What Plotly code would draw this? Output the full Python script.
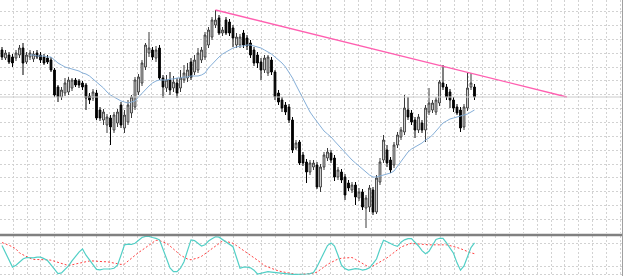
import plotly.graph_objects as go

# ---- price data (arbitrary price units) ----
opens = [190,182,185,183,182,185,192,178,183,181,187,185,183,182,180,170,153,143,147,148,
         152,160,159,157,155,144,142,147,130,120,115,122,110,117,135,112,118,127,133,148,
         157,173,187,190,182,192,162,152,160,152,157,152,160,162,178,168,170,180,183,195,
         203,215,222,207,220,218,212,195,195,207,202,197,190,185,178,170,167,180,168,147,
         140,135,133,120,92,98,85,78,68,73,75,53,73,82,87,82,63,68,63,57,
         50,55,42,48,32,33,50,28,58,80,90,80,75,95,103,108,130,127,120,110,
         117,110,128,130,128,137,157,153,148,140,133,130,113,132,153,153]
closes = [183,187,178,177,187,192,177,185,187,186,183,180,177,178,170,145,143,150,157,160,
          160,155,155,153,142,140,148,122,122,128,123,113,125,128,115,125,135,143,160,163,
          177,195,192,183,190,162,153,160,150,158,147,162,167,170,163,180,187,190,205,210,
          220,220,207,210,207,207,202,203,203,195,194,185,177,177,170,182,183,168,143,138,
          132,128,120,90,97,77,77,68,77,77,53,73,85,88,80,63,70,60,45,52,
          55,43,48,33,42,52,28,62,78,100,77,70,95,105,110,132,123,118,110,123,
          110,132,137,137,140,158,153,143,140,132,127,112,133,152,157,143]
highs = [193,190,188,186,190,195,197,188,190,189,190,188,186,185,183,172,155,153,162,163,
         162,162,161,159,157,147,151,150,133,131,126,125,128,131,138,130,140,145,163,166,
         180,197,208,193,194,195,165,165,168,164,162,170,175,177,182,185,192,193,208,213,
         223,230,225,213,223,221,215,207,206,210,205,200,193,188,182,185,185,183,170,150,
         143,138,136,123,100,100,88,81,80,80,78,76,88,92,90,85,73,71,66,60,
         58,58,52,51,45,55,53,65,82,105,95,83,98,108,113,145,143,130,123,126,
         120,135,152,140,143,160,175,156,151,143,136,133,136,167,167,156]
lows = [180,180,176,173,179,182,165,176,180,178,181,177,175,176,168,143,138,140,144,145,
        149,153,152,150,130,136,139,120,119,115,107,95,107,113,112,107,115,122,130,145,
        154,170,183,180,178,160,142,148,145,148,142,148,157,158,160,165,167,177,180,192,
        200,212,205,204,205,204,193,192,192,192,190,182,174,172,160,167,164,165,140,135,
        128,125,117,87,90,75,74,57,65,70,51,48,70,79,77,59,60,57,40,49,
        47,35,39,30,12,28,25,26,55,77,73,67,72,92,100,105,120,115,102,107,
        107,98,125,127,125,134,150,140,132,128,125,108,110,129,150,140]
ma20 = [None]*8 + [185,185,184,184,184,183,183,180,177,175,173,172,171,170,169,167,166,164,161,158,
        155,152,148,145,143,141,139,138,137,138,139,143,147,151,154,157,159,160,160,160,
        161,161,162,162,163,163,164,164,164,165,167,172,176,179,183,186,188,190,192,193,
        194,194,195,195,194,193,192,190,188,186,183,180,177,173,168,162,155,148,141,134,
        128,123,118,113,109,106,103,99,95,91,88,84,80,77,74,71,68,65,63,63,
        64,65,66,67,69,74,78,83,88,91,93,95,97,100,102,105,109,113,117,119,
        121,122,123,124,125,126,128,130]

# ---- stochastic oscillator (%K main, %D signal) ----
stoch_k = [75,57,38,19,24,32,40,44,43,43,45,45,41,36,25,12,2,4,12,22,
           35,48,58,66,50,38,26,13,12,14,14,14,16,24,50,77,79,78,81,88,
           96,99,99,96,94,90,66,38,17,7,7,16,33,62,90,88,81,74,77,87,
           93,98,97,91,85,78,72,44,16,19,19,17,11,1,3,6,7,6,5,4,
           2,1,0,0,0,0,1,1,2,5,20,37,58,75,82,74,50,24,15,11,
           13,15,14,11,13,17,28,40,66,89,85,80,76,73,84,90,93,93,84,74,
           62,54,60,76,91,94,94,82,70,55,30,11,22,46,70,82]
stoch_d = [83,80,76,72,66,56,51,46,42,39,39,39,38,38,37,34,31,27,24,23,
           25,27,28,30,32,35,35,34,34,33,33,31,29,27,26,27,35,43,51,57,
           63,70,76,83,89,88,85,81,74,66,57,50,45,40,38,40,43,47,54,61,
           67,73,80,87,86,84,81,75,69,62,56,50,44,37,30,23,19,15,11,9,
           7,5,3,2,0,0,1,1,2,3,6,13,20,26,31,36,40,42,43,44,
           44,39,34,29,24,18,22,27,31,36,43,50,57,64,71,75,78,81,80,79,
           78,77,77,77,77,77,77,77,75,73,70,67,63,60,56,54]
stoch_levels = [0, 20, 80]

# ---- trend line anchors (bar index, price) ----
trend_x = [61, 161.4]
trend_y = [230, 143]

bars = list(range(len(closes)))

fig = go.Figure()
fig.add_trace(go.Candlestick(
    x=bars, open=opens, high=highs, low=lows, close=closes,
    increasing=dict(line=dict(color="#3a3a3a", width=1), fillcolor="#ffffff"),
    decreasing=dict(line=dict(color="#000000", width=1), fillcolor="#000000"),
    whiskerwidth=0, xaxis="x", yaxis="y", showlegend=False, hoverinfo="skip"))
fig.add_trace(go.Scatter(x=bars, y=ma20, mode="lines",
                         line=dict(color="#86afd8", width=1), xaxis="x", yaxis="y",
                         showlegend=False, hoverinfo="skip"))
fig.add_trace(go.Scatter(x=trend_x, y=trend_y, mode="lines",
                         line=dict(color="#ff5fb0", width=1.3), xaxis="x", yaxis="y",
                         showlegend=False, hoverinfo="skip"))
fig.add_trace(go.Scatter(x=bars, y=stoch_d, mode="lines",
                         line=dict(color="#ff4040", width=1, dash="2px,2px"),
                         xaxis="x2", yaxis="y2", showlegend=False, hoverinfo="skip"))
fig.add_trace(go.Scatter(x=bars, y=stoch_k, mode="lines",
                         line=dict(color="#52cfc6", width=1.2),
                         xaxis="x2", yaxis="y2", showlegend=False, hoverinfo="skip"))

W, H = 625, 276
xr = [-2 / 3.5, -2 / 3.5 + 622 / 3.5]
grid = dict(showgrid=True, gridcolor="#d2d2d2", gridwidth=1, griddash="2px,2px",
            zeroline=False, showticklabels=False, ticks="", showline=False)

fig.update_layout(
    width=W, height=H, margin=dict(l=0, r=0, t=0, b=0),
    paper_bgcolor="white", plot_bgcolor="white", showlegend=False,
    xaxis=dict(domain=[0, 622 / W], range=xr, tickmode="linear",
               tick0=11.3 / 3.5, dtick=13.79 / 3.5, rangeslider=dict(visible=False),
               anchor="y", **grid),
    yaxis=dict(domain=[43 / H, 1], range=[7, 240], tickmode="linear",
               tick0=228.3, dtick=13.85, anchor="x", **grid),
    xaxis2=dict(domain=[0, 622 / W], range=xr, tickmode="linear",
                tick0=11.3 / 3.5, dtick=13.79 / 3.5, anchor="y2", matches="x", **grid),
    yaxis2=dict(domain=[0, 40 / H], range=[-4.2, 100], tickmode="array",
                tickvals=stoch_levels, anchor="x2", **grid),
    shapes=[
        # bid line at last close
        dict(type="line", xref="paper", x0=0, x1=622 / W, yref="y",
             y0=closes[-1], y1=closes[-1], line=dict(color="#cccccc", width=1)),
        # separator between main window and indicator window
        dict(type="rect", xref="paper", x0=0, x1=623 / W, yref="paper",
             y0=(H - 236.3) / H, y1=(H - 233.8) / H, fillcolor="#808080",
             line=dict(width=0)),
        # right border
        dict(type="line", xref="paper", x0=622.5 / W, x1=622.5 / W, yref="paper",
             y0=0, y1=1, line=dict(color="#a0a0a0", width=1)),
    ],
)

fig.write_html("out.html", config={"displayModeBar": False})
